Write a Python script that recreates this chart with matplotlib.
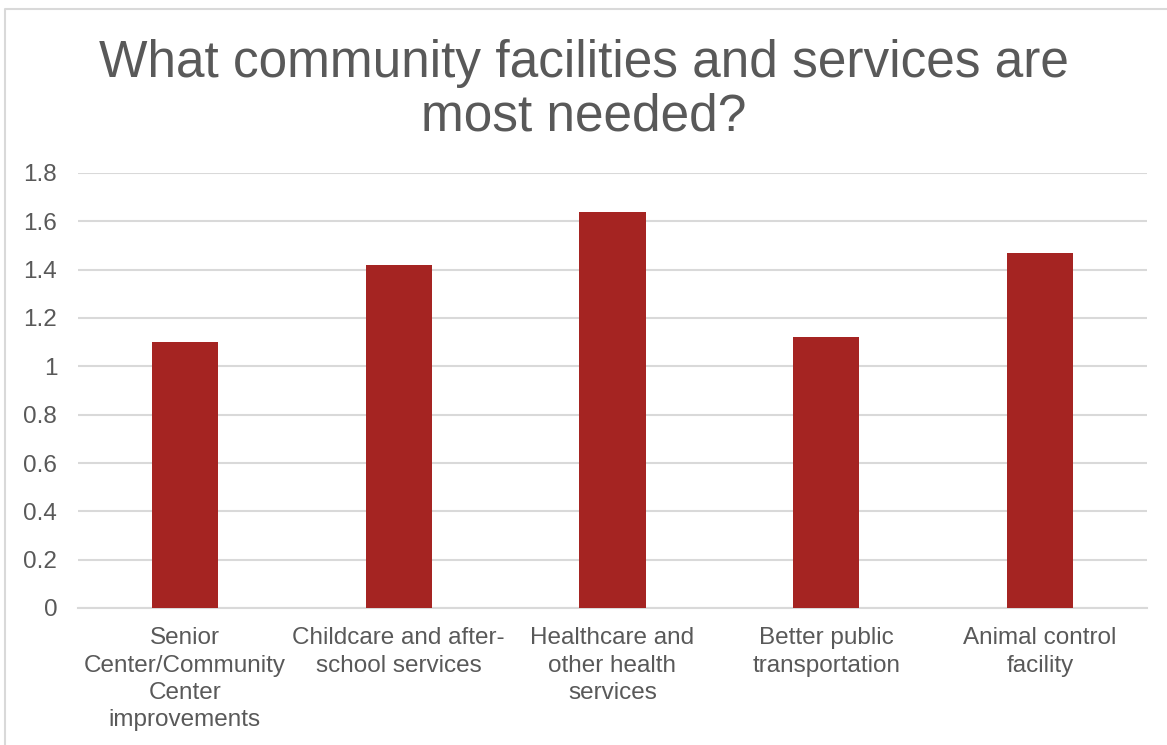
import matplotlib

matplotlib.use("Agg")
import matplotlib.pyplot as plt
from matplotlib.lines import Line2D

categories = [
    "Senior\nCenter/Community\nCenter\nimprovements",
    "Childcare and after-\nschool services",
    "Healthcare and\nother health\nservices",
    "Better public\ntransportation",
    "Animal control\nfacility",
]
values = [1.10, 1.42, 1.64, 1.12, 1.47]
yticks = [0, 0.2, 0.4, 0.6, 0.8, 1.0, 1.2, 1.4, 1.6, 1.8]
ytick_labels = ["0", "0.2", "0.4", "0.6", "0.8", "1", "1.2", "1.4", "1.6", "1.8"]
title = "What community facilities and services are\nmost needed?"

BAR_COLOR = "#A52422"
TEXT_COLOR = "#595959"
GRID_COLOR = "#D9D9D9"

plt.rcParams["font.family"] = ["Liberation Sans", "DejaVu Sans"]

W, H = 1167, 745
fig = plt.figure(figsize=(W / 100, H / 100), dpi=100)

# plot area in pixel terms
left, right, top, bottom = 78, 1147, 173, 608
ax = fig.add_axes([left / W, 1 - bottom / H, (right - left) / W, (bottom - top) / H])

x = range(len(categories))
ax.bar(x, values, width=0.31, color=BAR_COLOR, zorder=3)

ax.set_xlim(-0.5, len(categories) - 0.5)
ax.set_ylim(0, 1.8)
ax.set_yticks(yticks)
ax.set_yticklabels(ytick_labels)
ax.set_xticks(list(x))
ax.set_xticklabels(categories, linespacing=1.3)

ax.tick_params(axis="y", length=0, pad=15, labelsize=17.5, labelcolor=TEXT_COLOR)
ax.tick_params(axis="x", length=0, pad=14, labelsize=17.5, labelcolor=TEXT_COLOR)

ax.yaxis.grid(True, color=GRID_COLOR, linewidth=1.5, zorder=0)
ax.set_axisbelow(True)
for side in ["top", "right", "left"]:
    ax.spines[side].set_visible(False)
ax.spines["bottom"].set_color(GRID_COLOR)
ax.spines["bottom"].set_linewidth(1.5)

fig.text(0.5, 1 - 90 / H, title, ha="center", va="center", fontsize=37,
         color=TEXT_COLOR, linespacing=1.12)

# chart border (left and top edges)
fig.add_artist(Line2D([5 / W, 5 / W, 1.0], [0.0, 1 - 9 / H, 1 - 9 / H],
                      color=GRID_COLOR, linewidth=1.5))

fig.savefig("out.png", dpi=100, facecolor="white")
